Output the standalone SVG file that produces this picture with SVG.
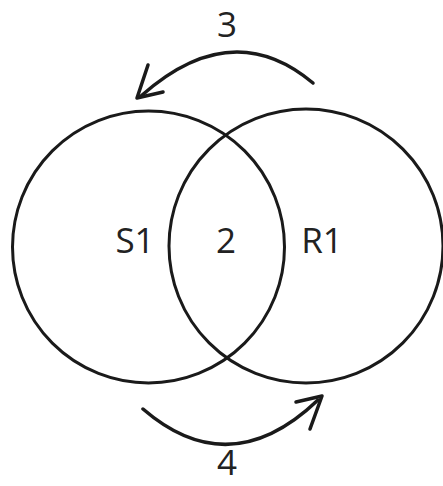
<svg xmlns="http://www.w3.org/2000/svg" width="443" height="486" viewBox="0 0 443 486">
<style>
.c{fill:none;stroke:#1a1a1a;stroke-width:3}
.a{fill:none;stroke:#1a1a1a;stroke-width:3.5;stroke-linecap:round;stroke-linejoin:round}
text{font-family:"Open Sans","DejaVu Sans",sans-serif;font-size:35px;fill:#222;text-anchor:middle}
</style>
<rect width="443" height="486" fill="#fff"/>
<g id="S1"><circle class="c" cx="148.5" cy="247" r="136"/><text x="135" y="253">S1</text></g>
<g id="R1"><circle class="c" cx="306" cy="246" r="137"/><text x="322" y="253">R1</text></g>
<g id="overlap"><text x="226" y="253">2</text></g>
<g id="connectors">
<g id="arrow3"><path class="a" d="M313,83 Q232,15 141,96"/><path class="a" d="M148,65 L137,98 L163,92"/><text x="227" y="37">3</text></g>
<g id="arrow4"><path class="a" d="M143,409 Q230,484 318,400"/><path class="a" d="M296,402 L322,396 L310,429"/><text x="227" y="475">4</text></g>
</g>
</svg>
